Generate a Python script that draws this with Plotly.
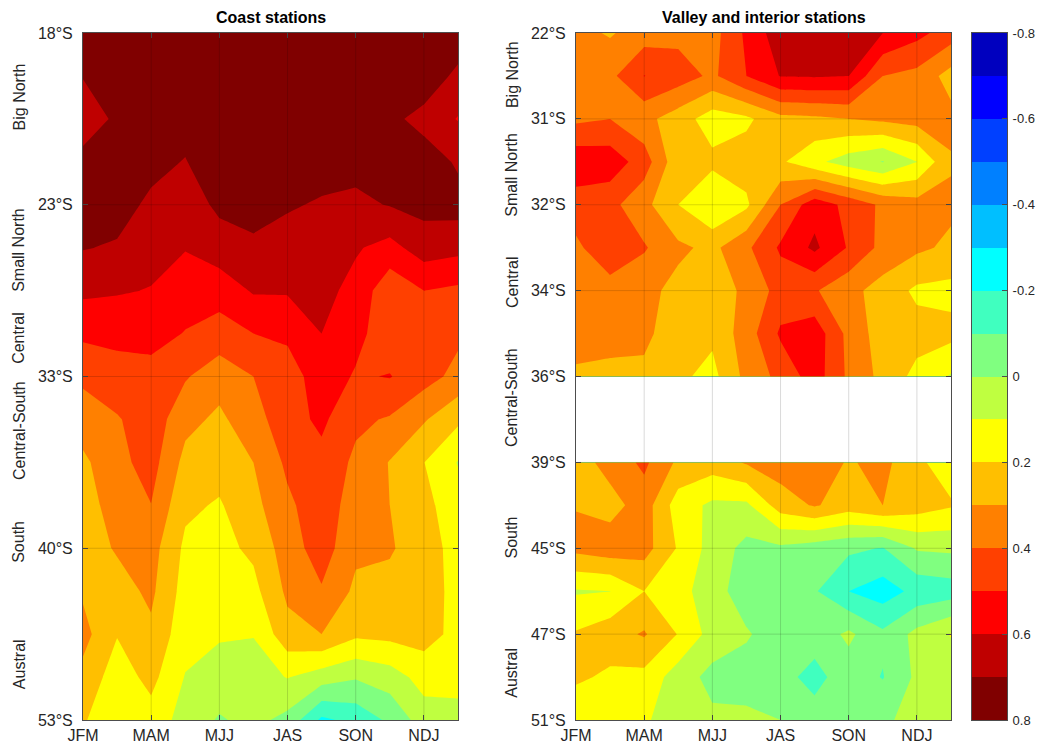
import plotly.graph_objects as go

# ---------------- data ----------------
seasons = ["JFM", "FMA", "MAM", "AMJ", "MJJ", "JJA", "JAS", "ASO", "SON", "OND", "NDJ", "DJF"]
season_index = list(range(1, 13))
season_tick_pos = [1, 3, 5, 7, 9, 11]
season_tick_text = ["JFM", "MAM", "MJJ", "JAS", "SON", "NDJ"]

station_index = list(range(17))

coast_lat_pos = [0, 4, 8, 12, 16]
coast_lat_text = ["18°S", "23°S", "33°S", "40°S", "53°S"]
valley_lat_pos = [0, 2, 4, 6, 8, 10, 12, 14, 16]
valley_lat_text = ["22°S", "31°S", "32°S", "34°S", "36°S", "39°S", "45°S", "47°S", "51°S"]

regions = ["Big North", "Small North", "Central", "Central-South", "South", "Austral"]
coast_region_pos = [1.5, 5.05, 7.1, 9.27, 11.85, 14.7]
valley_region_pos = [0.98, 3.3, 5.8, 8.5, 11.75, 14.9]

# correlation per station (rows, north -> south) and season (columns)
coast_z = [
    [0.78, 0.79, 0.79, 0.79, 0.80, 0.80, 0.80, 0.80, 0.80, 0.79, 0.78, 0.78],
    [0.705, 0.77, 0.78, 0.78, 0.80, 0.80, 0.80, 0.80, 0.80, 0.79, 0.78, 0.67],
    [0.64, 0.72, 0.76, 0.74, 0.79, 0.80, 0.80, 0.79, 0.78, 0.73, 0.66, 0.595],
    [0.735, 0.75, 0.73, 0.695, 0.77, 0.77, 0.76, 0.74, 0.73, 0.75, 0.76, 0.685],
    [0.76, 0.74, 0.68, 0.65, 0.72, 0.73, 0.71, 0.69, 0.68, 0.705, 0.73, 0.74],
    [0.705, 0.69, 0.64, 0.605, 0.655, 0.685, 0.66, 0.66, 0.61, 0.566, 0.65, 0.63],
    [0.62, 0.61, 0.595, 0.55, 0.54, 0.61, 0.61, 0.63, 0.57, 0.43, 0.50, 0.48],
    [0.52, 0.52, 0.54, 0.495, 0.46, 0.50, 0.52, 0.60, 0.53, 0.44, 0.45, 0.42],
    [0.42, 0.47, 0.46, 0.41, 0.34, 0.40, 0.45, 0.555, 0.49, 0.505, 0.44, 0.37],
    [0.35, 0.39, 0.46, 0.33, 0.28, 0.36, 0.46, 0.52, 0.42, 0.39, 0.31, 0.22],
    [0.28, 0.37, 0.44, 0.27, 0.24, 0.30, 0.42, 0.47, 0.38, 0.295, 0.202, 0.095],
    [0.26, 0.34, 0.398, 0.22, 0.19, 0.27, 0.38, 0.46, 0.35, 0.30, 0.23, 0.14],
    [0.25, 0.31, 0.34, 0.18, 0.17, 0.22, 0.35, 0.45, 0.32, 0.31, 0.25, 0.16],
    [0.286, 0.26, 0.32, 0.16, 0.15, 0.17, 0.32, 0.39, 0.28, 0.27, 0.26, 0.16],
    [0.333, 0.205, 0.28, 0.14, 0.11, 0.105, 0.265, 0.30, 0.22, 0.23, 0.24, 0.17],
    [0.27, 0.15, 0.23, 0.095, 0.06, 0.05, 0.105, 0.05, 0.01, 0.05, 0.14, 0.13],
    [0.21, 0.13, 0.16, 0.06, -0.01, 0.03, -0.03, -0.22, -0.17, -0.08, 0.05, 0.07],
]

valley_z = [
    [0.33, 0.29, 0.35, 0.37, 0.36, 0.52, 0.66, 0.67, 0.66, 0.60, 0.53, 0.45],
    [0.34, 0.375, 0.502, 0.45, 0.38, 0.50, 0.605, 0.61, 0.601, 0.40, 0.37, 0.26],
    [0.38, 0.40, 0.33, 0.25, 0.15, 0.18, 0.27, 0.28, 0.30, 0.32, 0.34, 0.33],
    [0.57, 0.56, 0.45, 0.23, 0.225, 0.25, 0.215, 0.125, 0.05, -0.005, 0.099, 0.29],
    [0.45, 0.43, 0.33, 0.20, 0.099, 0.18, 0.40, 0.56, 0.47, 0.38, 0.34, 0.32],
    [0.38, 0.47, 0.41, 0.32, 0.275, 0.38, 0.515, 0.62, 0.49, 0.37, 0.32, 0.28],
    [0.35, 0.36, 0.33, 0.27, 0.25, 0.32, 0.44, 0.41, 0.33, 0.26, 0.18, 0.17],
    [0.35, 0.34, 0.32, 0.25, 0.22, 0.35, 0.515, 0.56, 0.37, 0.25, 0.24, 0.23],
    [0.28, 0.27, 0.28, 0.22, 0.17, 0.33, 0.43, 0.55, 0.38, 0.27, 0.17, 0.09],
    [None] * 12,
    [0.25, 0.34, 0.42, 0.28, 0.25, 0.31, 0.35, 0.36, 0.29, 0.33, 0.22, 0.15],
    [0.295, 0.26, 0.35, 0.15, 0.08, 0.08, 0.25, 0.31, 0.25, 0.30, 0.25, 0.21],
    [0.33, 0.36, 0.34, 0.19, 0.06, -0.03, -0.02, -0.05, -0.08, -0.105, 0.01, 0.02],
    [0.09, 0.099, 0.20, 0.14, 0.04, -0.05, -0.05, -0.09, -0.20, -0.25, -0.17, -0.15],
    [0.21, 0.26, 0.31, 0.195, 0.06, 0.01, -0.05, -0.06, 0.02, -0.08, 0.03, 0.105],
    [0.22, 0.18, 0.17, 0.05, -0.03, -0.04, -0.07, -0.13, -0.05, -0.105, 0.02, 0.05],
    [0.11, 0.15, 0.11, 0.06, 0.02, 0.02, 0.0, -0.06, -0.05, -0.02, 0.04, 0.06],
]
valley_gap_row = 9  # stations without data

levels = [round(-0.8 + 0.1 * i, 1) for i in range(17)]
cbar_tick_vals = [-0.8, -0.6, -0.4, -0.2, 0.0, 0.2, 0.4, 0.6, 0.8]
cbar_tick_text = ["-0.8", "-0.6", "-0.4", "-0.2", "0", "0.2", "0.4", "0.6", "0.8"]

jet16 = [
    "rgb(0,0,191)", "rgb(0,0,255)", "rgb(0,64,255)", "rgb(0,128,255)",
    "rgb(0,191,255)", "rgb(0,255,255)", "rgb(64,255,191)", "rgb(128,255,128)",
    "rgb(191,255,64)", "rgb(255,255,0)", "rgb(255,191,0)", "rgb(255,128,0)",
    "rgb(255,64,0)", "rgb(255,0,0)", "rgb(191,0,0)", "rgb(128,0,0)",
]

# ---------------- layout helpers ----------------
W, H = 1042, 751
FONT = "Liberation Sans, Arial, Helvetica, sans-serif"
TXT = "#262626"
AXC = "#4d4d4d"


def dom_x(a, b):
    return [a / W, b / W]


def dom_y(top, bottom):
    return [1 - bottom / H, 1 - top / H]


n = len(jet16)
colorscale = [[i / (n - 1), c] for i, c in enumerate(jet16)]
contour_cfg = dict(start=levels[1], end=levels[-2], size=0.1,
                   coloring="fill", showlines=False)

fig = go.Figure()

fig.add_trace(go.Contour(
    x=season_index, y=station_index, z=coast_z,
    autocontour=False, contours=contour_cfg, colorscale=colorscale,
    showscale=False, line=dict(width=0, smoothing=0),
    xaxis="x", yaxis="y", hoverinfo="skip"))

upper_rows = list(range(0, valley_gap_row))
lower_rows = list(range(valley_gap_row + 1, len(valley_z)))
for rows in (upper_rows, lower_rows):
    fig.add_trace(go.Contour(
        x=season_index, y=[station_index[r] for r in rows],
        z=[valley_z[r] for r in rows],
        autocontour=False, contours=contour_cfg, colorscale=colorscale,
        showscale=False, line=dict(width=0, smoothing=0),
        xaxis="x2", yaxis="y2", hoverinfo="skip"))

# colour bar drawn as its own heat strip
band_mid = [[(levels[i] + levels[i + 1]) / 2] for i in range(len(levels) - 1)]
fig.add_trace(go.Heatmap(
    x=[0, 1], y=levels, z=band_mid, colorscale=colorscale,
    zmin=band_mid[0][0], zmax=band_mid[-1][0], showscale=False,
    xaxis="x3", yaxis="y3", hoverinfo="skip"))

axis_common = dict(
    showline=True, linecolor=AXC, linewidth=1, mirror="ticks",
    ticks="inside", ticklen=5, tickcolor=AXC, showgrid=False, zeroline=False,
    layer="above traces", automargin=False,
    tickfont=dict(family=FONT, size=16, color=TXT),
)

fig.update_layout(
    template="none",
    width=W, height=H, margin=dict(l=0, r=0, t=0, b=0, pad=0, autoexpand=False),
    paper_bgcolor="white", plot_bgcolor="white", showlegend=False,
    xaxis=dict(domain=dom_x(83, 458), range=[1, 12], anchor="y",
               tickvals=season_tick_pos, ticktext=season_tick_text,
               ticklabelstandoff=1, **axis_common),
    yaxis=dict(domain=dom_y(33, 720), range=[16, 0], anchor="x",
               tickvals=coast_lat_pos, ticktext=coast_lat_text,
               ticklabelstandoff=6, **axis_common),
    xaxis2=dict(domain=dom_x(576, 951), range=[1, 12], anchor="y2",
                tickvals=season_tick_pos, ticktext=season_tick_text,
                ticklabelstandoff=1, **axis_common),
    yaxis2=dict(domain=dom_y(33, 720), range=[16, 0], anchor="x2",
                tickvals=valley_lat_pos, ticktext=valley_lat_text,
                ticklabelstandoff=6, **axis_common),
    xaxis3=dict(domain=dom_x(972, 1007), range=[0, 1], anchor="y3",
                showticklabels=False, ticks="", showline=True, mirror=True,
                linecolor=AXC, linewidth=1, showgrid=False, zeroline=False,
                automargin=False),
    yaxis3=dict(domain=dom_y(33, 720), range=[0.8, -0.8], anchor="x3", side="right",
                tickvals=cbar_tick_vals, ticktext=cbar_tick_text,
                showline=True, mirror=True, linecolor=AXC, linewidth=1,
                ticks="inside", ticklen=5, tickcolor=AXC, showgrid=False, zeroline=False,
                layer="above traces", automargin=False, ticklabelstandoff=2,
                tickfont=dict(family=FONT, size=13, color=TXT)),
)

# grid lines drawn above the filled contours
grid_col = "rgba(0,0,0,0.15)"
shapes = []
for xa, ya, ytv in (("x", "y", coast_lat_pos), ("x2", "y2", valley_lat_pos)):
    for t in season_tick_pos[1:]:
        shapes.append(dict(type="line", xref=xa, yref=ya + " domain", x0=t, x1=t, y0=0, y1=1,
                           line=dict(color=grid_col, width=1), layer="above"))
    for t in ytv[1:-1]:
        shapes.append(dict(type="line", xref=xa + " domain", yref=ya, x0=0, x1=1, y0=t, y1=t,
                           line=dict(color=grid_col, width=1), layer="above"))
fig.update_layout(shapes=shapes)

annotations = [
    dict(text="<b>Coast stations</b>", xref="x domain", yref="paper", x=0.5, y=1 - 18 / H,
         showarrow=False, font=dict(family=FONT, size=16, color="black"), yanchor="middle"),
    dict(text="<b>Valley and interior stations</b>", xref="x2 domain", yref="paper", x=0.5,
         y=1 - 18 / H, showarrow=False, font=dict(family=FONT, size=16, color="black"),
         yanchor="middle"),
]
for name, pos in zip(regions, coast_region_pos):
    annotations.append(dict(text=name, xref="paper", yref="y", x=19 / W, y=pos, textangle=-90,
                            xanchor="center", yanchor="middle", showarrow=False,
                            font=dict(family=FONT, size=16, color=TXT)))
for name, pos in zip(regions, valley_region_pos):
    annotations.append(dict(text=name, xref="paper", yref="y2", x=512 / W, y=pos, textangle=-90,
                            xanchor="center", yanchor="middle", showarrow=False,
                            font=dict(family=FONT, size=16, color=TXT)))
fig.update_layout(annotations=annotations)

fig.write_html("out.html", config={"displayModeBar": False},
               post_script="document.body.style.margin='0px';")
